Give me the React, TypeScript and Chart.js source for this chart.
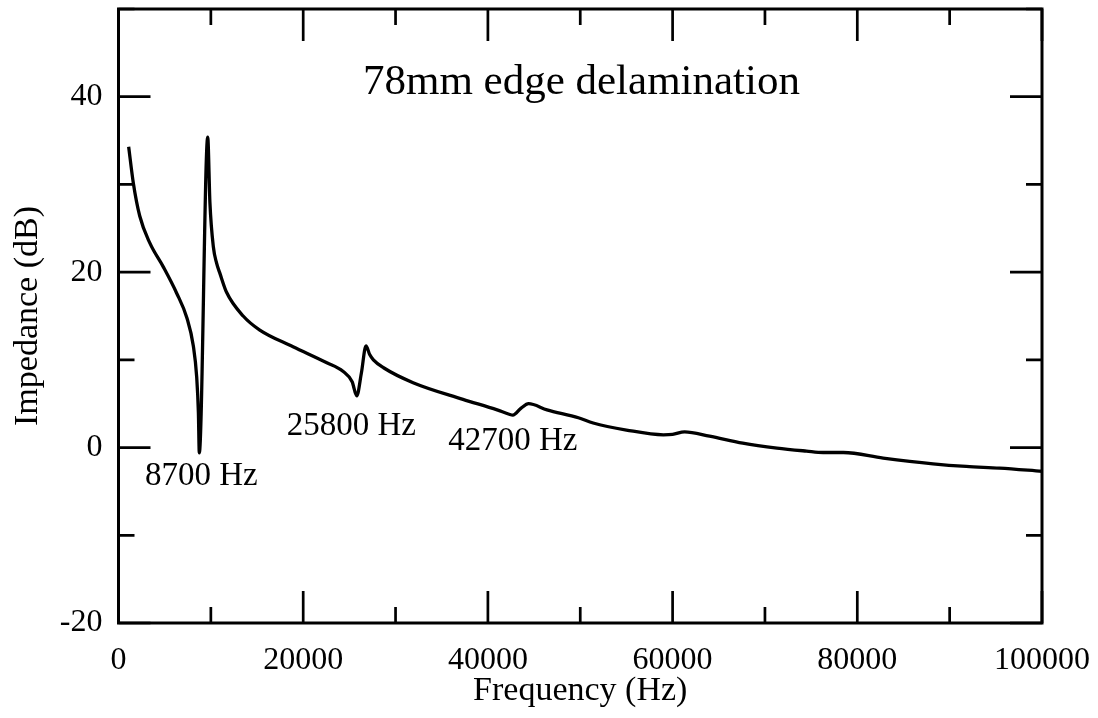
import React, { useEffect, useRef } from "react";
import { Chart, registerables } from "chart.js";

Chart.register(...registerables);

// Frequency (Hz) samples
const frequencies: number[] = [
  1100, 1600, 2300, 3400, 4850, 6300, 7400, 8100, 8470, 8650, 8750,
  9660, 9900, 10270, 10630, 11000, 11700, 13500, 15300, 18900, 22500,
  24300, 25300, 25800, 26300, 26800, 27200, 27600, 28700, 31900, 37300, 41000,
  42300, 42700, 43600, 44400, 46400, 49800, 51400, 55000, 59000, 60000,
  61300, 64000, 67600, 71300, 74500, 76300, 78500, 82800, 88200, 91800,
  95400, 100000,
];
// Impedance (dB)
const impedance: number[] = [
  34.3, 30.2, 26.4, 23.3, 20.6, 17.6, 14.8, 11.6, 8.0, 4.0, -0.6,
  35.4, 27.9, 22.9, 21.0, 19.8, 17.7, 15.0, 13.4, 11.5, 9.7,
  8.7, 7.5, 5.9, 8.5, 11.6, 10.6, 10.0, 9.1, 7.4, 5.5, 4.3,
  3.8, 3.7, 4.5, 5.0, 4.3, 3.4, 2.8, 2.0, 1.45, 1.5,
  1.8, 1.3, 0.5, -0.06, -0.4, -0.56, -0.56, -1.2, -1.85, -2.15,
  -2.34, -2.7,
];

const titleText = "78mm edge delamination";
const annotationTexts: string[] = ["8700 Hz", "25800 Hz", "42700 Hz"];
const annotationFreq: number[] = [2870, 18210, 35710];
const annotationDb: number[] = [-4.24, 1.46, -0.25];

const xMin = 0;
const xMax = 100000;
const xMajor = 20000;
const xMinor = 10000;
const yMin = -20;
const yMax = 50;
const yMajor = 20;
const yMinor = 10;

const FONT = "'Liberation Serif', 'Times New Roman', serif";

const framePlugin = {
  id: "frameTicks",
  afterDatasetsDraw(chart: any) {
    const { ctx, chartArea } = chart;
    const xs = chart.scales.x;
    const ys = chart.scales.y;
    const { left, right, top, bottom } = chartArea;
    ctx.save();
    ctx.strokeStyle = "#000";
    ctx.lineWidth = 2.7;
    ctx.lineCap = "butt";
    ctx.beginPath();
    for (let v = xMin; v <= xMax + 1e-6; v += xMinor) {
      const px = xs.getPixelForValue(v);
      const len = Math.abs(v % xMajor) < 1e-6 ? 32 : 16;
      ctx.moveTo(px, bottom);
      ctx.lineTo(px, bottom - len);
      ctx.moveTo(px, top);
      ctx.lineTo(px, top + len);
    }
    for (let v = yMin; v <= yMax + 1e-6; v += yMinor) {
      const py = ys.getPixelForValue(v);
      const len = Math.abs(v % yMajor) < 1e-6 ? 32 : 16;
      ctx.moveTo(left, py);
      ctx.lineTo(left + len, py);
      ctx.moveTo(right, py);
      ctx.lineTo(right - len, py);
    }
    ctx.stroke();
    ctx.lineWidth = 3;
    ctx.strokeRect(left, top, right - left, bottom - top);

    ctx.fillStyle = "#000";
    ctx.textBaseline = "alphabetic";
    ctx.textAlign = "left";
    ctx.font = `43px ${FONT}`;
    ctx.fillText(titleText, xs.getPixelForValue(26470), ys.getPixelForValue(40.34));
    ctx.font = `33px ${FONT}`;
    annotationTexts.forEach((t, i) => {
      ctx.fillText(t, xs.getPixelForValue(annotationFreq[i]), ys.getPixelForValue(annotationDb[i]));
    });
    ctx.restore();
  },
};

export default function App() {
  const canvasRef = useRef<HTMLCanvasElement | null>(null);

  useEffect(() => {
    const canvas = canvasRef.current;
    if (!canvas) return;
    const points = frequencies.map((f, i) => ({ x: f, y: impedance[i] }));
    const chart = new Chart(canvas, {
      type: "line",
      data: {
        datasets: [
          {
            data: points,
            borderColor: "#000",
            borderWidth: 3.3,
            pointRadius: 0,
            fill: false,
            cubicInterpolationMode: "monotone",
          },
        ],
      },
      options: {
        responsive: false,
        animation: false,
        devicePixelRatio: 1,
        layout: { padding: { top: 9, right: 56, left: 0, bottom: 0 } },
        plugins: { legend: { display: false }, tooltip: { enabled: false } },
        scales: {
          x: {
            type: "linear",
            min: xMin,
            max: xMax,
            grid: { display: false },
            border: { display: false },
            afterFit: (s: any) => {
              s.height = 95;
              s.paddingLeft = 0;
              s.paddingRight = 0;
            },
            ticks: {
              stepSize: xMajor,
              color: "#000",
              padding: 10,
              maxRotation: 0,
              font: { family: FONT, size: 32 },
              callback: (v: any) => String(v),
            },
            title: {
              display: true,
              text: "Frequency (Hz)",
              color: "#000",
              font: { family: FONT, size: 34 },
              padding: { top: 0, bottom: 7 },
            },
          },
          y: {
            type: "linear",
            min: yMin,
            max: yMax,
            grid: { display: false },
            border: { display: false },
            afterFit: (s: any) => {
              s.width = 118.5;
              s.paddingTop = 0;
              s.paddingBottom = 0;
            },
            ticks: {
              stepSize: yMajor,
              includeBounds: false,
              color: "#000",
              padding: 8,
              font: { family: FONT, size: 32 },
              callback: (v: any) => String(v),
            },
            title: {
              display: true,
              text: "Impedance (dB)",
              color: "#000",
              font: { family: FONT, size: 34 },
              padding: { top: 8, bottom: 0 },
            },
          },
        },
      },
      plugins: [framePlugin],
    });
    return () => chart.destroy();
  }, []);

  return (
    <div style={{ position: "fixed", left: 0, top: 0, width: 1098, height: 718, background: "#fff" }}>
      <canvas ref={canvasRef} width={1098} height={718} style={{ width: 1098, height: 718 }} />
    </div>
  );
}
